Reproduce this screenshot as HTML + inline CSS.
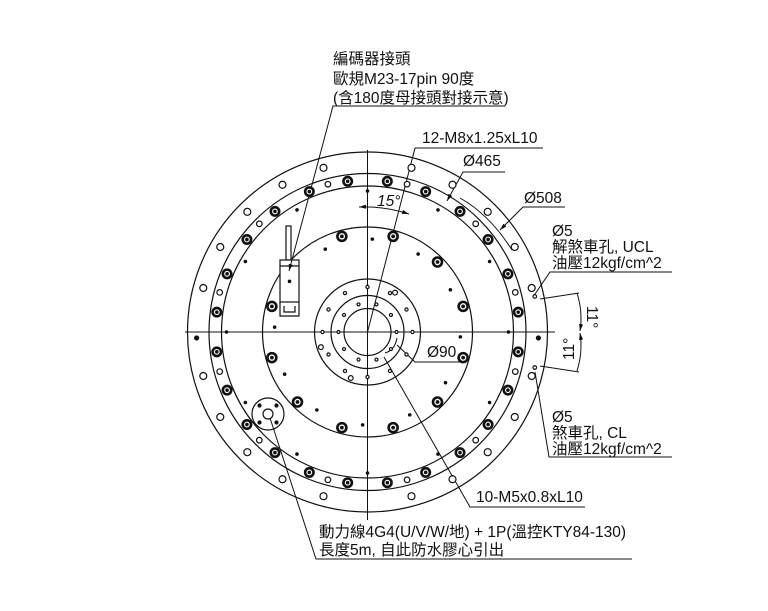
<!DOCTYPE html>
<html><head><meta charset="utf-8">
<style>
html,body{margin:0;padding:0;background:#fff;}
svg{display:block;}
text{font-family:"Liberation Sans","Noto Sans CJK TC",sans-serif;font-size:15.5px;fill:#111;}
</style></head>
<body>
<svg id="s" width="768" height="611" viewBox="0 0 768 611" xmlns="http://www.w3.org/2000/svg">
<defs>
<marker id="ar" viewBox="0 0 10 10" refX="10" refY="5" markerWidth="7" markerHeight="7" orient="auto-start-reverse"><path d="M0,2 L10,5 L0,8 z" fill="#111"/></marker>
</defs>
<g id="g" fill="none" stroke="#111" stroke-width="1.2">
<circle cx="367.5" cy="332" r="180"/>
<circle cx="367.5" cy="332" r="158.5"/>
<circle cx="367.5" cy="332" r="146"/>
<circle cx="367.5" cy="332" r="105"/>
<circle cx="367.5" cy="332" r="53"/>
<circle cx="367.5" cy="332" r="36.5"/>
<circle cx="367.5" cy="332" r="23.5"/>
<line x1="185" y1="332" x2="555" y2="332" stroke-width="1"/>
<line x1="367.5" y1="150" x2="367.5" y2="520" stroke-width="1"/>
<rect x="286" y="226" width="5" height="34" fill="#fff"/>
<rect x="280" y="260" width="19" height="42" fill="#fff"/>
<line x1="280" y1="266" x2="299" y2="266"/>
<path d="M280,302 L280,316 L299,316 L299,302 M284,306 L284,312 L295,312 L295,306" />
<circle cx="268" cy="414" r="16"/>
<circle cx="268" cy="414" r="5"/>
<g stroke-width="1">
<polyline points="505,106 333,106 289,271" marker-end="url(#ar)"/>
<polyline points="543,148 415,148 367.5,332"/>
<polyline points="505,172 463,172 447,201" marker-end="url(#ar)"/>
<polyline points="565,207 523,207 500,230" marker-end="url(#ar)"/>
<polyline points="672,272 550,272 533,297"/>
<polyline points="672,457 549,457 535,372"/>
<polyline points="460,362 415,362 397,345"/>
<polyline points="585,507 470,507 384,357"/>
<polyline points="632,559 316,559 270,418"/>
<line x1="540" y1="299" x2="579" y2="293"/>
<line x1="540" y1="366" x2="579" y2="372"/>
<path d="M577,293 Q583,312 580,331" marker-end="url(#ar)"/>
<path d="M577,371 Q583,352 580,333" marker-end="url(#ar)"/>
<path d="M359,207 Q384,206 409,214" marker-start="url(#ar)" marker-end="url(#ar)"/>
<path d="M460,198 Q490,215 512,250" />
<path d="M397,338 Q395,350 385,353" />
</g>
</g>
<text x="333" y="64">編碼器接頭</text>
<text x="333" y="84">歐規M23-17pin 90度</text>
<text x="333" y="103">(含180度母接頭對接示意)</text>
<text x="422" y="143">12-M8x1.25xL10</text>
<text x="463" y="166">Ø465</text>
<text x="524" y="203">Ø508</text>
<text x="552" y="236">Ø5</text>
<text x="552" y="252">解煞車孔, UCL</text>
<text x="552" y="268">油壓12kgf/cm^2</text>
<text x="552" y="422">Ø5</text>
<text x="552" y="438">煞車孔, CL</text>
<text x="552" y="454">油壓12kgf/cm^2</text>
<text x="427" y="357">Ø90</text>
<text x="377" y="206" font-style="italic">15°</text>
<text x="476" y="502">10-M5x0.8xL10</text>
<text x="319" y="537">動力線4G4(U/V/W/地) + 1P(溫控KTY84-130)</text>
<text x="319" y="555">長度5m, 自此防水膠心引出</text>
<text transform="translate(587,306) rotate(90)">11°</text>
<text transform="translate(574,360) rotate(-90)">11°</text>
</svg>
<script>
var cx=367.5,cy=332,g=document.getElementById('g'),NS='http://www.w3.org/2000/svg';
function c(a,r,rad,fill,sw,ox,oy){var X=ox||cx,Y=oy||cy;var t=a*Math.PI/180;var e=document.createElementNS(NS,'circle');e.setAttribute('cx',X+r*Math.sin(t));e.setAttribute('cy',Y-r*Math.cos(t));e.setAttribute('r',rad);e.setAttribute('fill',fill||'#fff');if(sw)e.setAttribute('stroke-width',sw);g.appendChild(e);}
var i,a;
for(i=0;i<24;i++){a=7.5+15*i;c(a,152,4.2,'#fff',2.6);c(a,152,1.2,'#111');}
for(i=0;i<12;i++){c(15+30*i,153,2.8);}
[15,30,45,60,75,105,120,135,150,165].forEach(function(x){c(x,170,3.5);c(-x,170,3.5);});
for(i=0;i<12;i++){c(30*i,141,1.2,'#111');}
for(i=0;i<12;i++){a=15+30*i;if(a==315)continue;c(a,99,4.5,'#fff',2.6);c(a,99,1.3,'#111');}
for(i=0;i<12;i++){c(3+30*i,93,1.2,'#111');}
for(i=0;i<12;i++){c(0+30*i,45,1.6);}
for(i=0;i<10;i++){c(18+36*i,29,1.5);}
c(-108,49,2.4);c(200,49,2.4);c(35,48,2.4);
c(92,171,2,'#111');c(-92,171,2,'#111');
c(78,171,1.8);c(102,171,1.8);
for(i=0;i<4;i++){c(45+90*i,12,1.6,'#111',1,268,414);}
</script>
</body></html>
